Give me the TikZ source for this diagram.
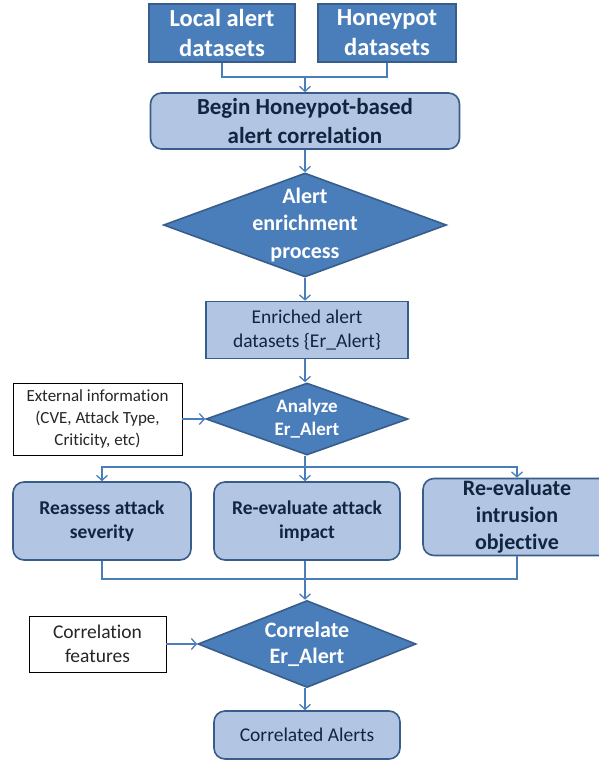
\documentclass[tikz,border=0pt]{standalone}
\usepackage{fontspec}
\setmainfont{Carlito}[Ligatures=NoCommon]
\usetikzlibrary{shapes.geometric}
\usetikzlibrary{arrows.meta}
\definecolor{alertblue}{RGB}{74,126,187}
\definecolor{alertedge}{RGB}{56,93,138}
\definecolor{alertlight}{RGB}{178,197,226}
\definecolor{alertnavy}{RGB}{16,37,63}
\newcommand{\fsz}[2]{\fontsize{#1}{#2}\selectfont} % size, baselineskip in pt
\tikzset{
	darkbox/.style={draw=alertedge, fill=alertblue, line width=1.6pt, text=white, align=center, inner sep=0pt},
	lightbox/.style={draw=alertedge, fill=alertlight, line width=1.6pt, text=alertnavy, align=center, inner sep=0pt},
	roundbox/.style={lightbox, rounded corners=11pt},
	decision/.style={diamond, aspect=2.5, draw=alertedge, fill=alertblue, line width=1.6pt, text=white, align=center, inner sep=0pt},
	infobox/.style={draw=black, fill=white, line width=0.9pt, text=black!85, align=center, inner sep=0pt},
	link/.style={draw=alertblue, line width=1.3pt},
	flow/.style={link, -{Straight Barb[length=5pt,width=11pt]}}
}

\begin{document}
\begin{tikzpicture}[x=1pt, y=-1pt]
	% 598 x 760, y grows downwards
	\useasboundingbox (0,0) rectangle (598,760);
	
	% sources
	\node[darkbox, minimum width=146pt, minimum height=58pt, font=\bfseries\fsz{24.5}{30}] (local) at (222,33) {Local alert\\datasets};
	\node[darkbox, minimum width=138pt, minimum height=58pt, font=\bfseries\fsz{24.5}{30}] (honey) at (387,33) {Honeypot\\datasets};
	\coordinate (join) at (305,77);
	
	% main column
	\node[roundbox, minimum width=309pt, minimum height=56pt, font=\bfseries\fsz{23}{29}] (begin) at (305,121) {Begin Honeypot-based\\alert correlation};
	\node[decision, inner sep=-6pt, minimum width=283pt, minimum height=104pt, font=\bfseries\fsz{22}{27.5}] (enrich) at (305,225) {Alert\\enrichment\\process};
	\node[lightbox, minimum width=202pt, minimum height=57pt, font=\fsz{19.5}{24}] (enriched) at (307,330) {Enriched alert\\datasets \{Er\_Alert\}};
	\node[decision, minimum width=202pt, minimum height=72pt, font=\bfseries\fsz{19}{23}] (analyze) at (307,419) {Analyze\\Er\_Alert};
	\node[infobox, minimum width=169pt, minimum height=72pt, font=\fsz{17}{22}] (extinfo) at (97.5,419) {External information\\(CVE, Attack Type,\\Criticity, etc)};
	
	% three re-evaluations
	\coordinate (fork) at (305,467);
	\node[roundbox, minimum width=178pt, minimum height=78pt, font=\bfseries\fsz{19.5}{23.5}] (severity) at (102,521) {Reassess attack\\severity};
	\node[roundbox, minimum width=186pt, minimum height=78pt, font=\bfseries\fsz{19.5}{23.5}] (impact) at (307,521) {Re-evaluate attack\\impact};
	\node[roundbox, minimum width=188pt, minimum height=77pt, font=\bfseries\fsz{22}{27}] (objective) at (517,517) {Re-evaluate\\intrusion\\objective};
	\coordinate (merge) at (305,579);
	
	% correlation
	\node[decision, minimum width=218pt, minimum height=87pt, font=\bfseries\fsz{22}{26}] (correlate) at (307,644) {Correlate\\Er\_Alert};
	\node[infobox, minimum width=137pt, minimum height=56pt, font=\fsz{19.5}{24}] (features) at (97.5,644) {Correlation\\features};
	\node[roundbox, minimum width=186pt, minimum height=48pt, font=\fsz{19.5}{24}] (result) at (307,735) {Correlated Alerts};
	
	% connectors
	\draw[link] (local.south) |- (join) -| (honey.south);
	\draw[flow] (join) -- (join |- begin.north);
	\draw[flow] (begin.south -| join) -- (enrich.north);
	\draw[flow] (enrich.south) -- (enriched.north -| enrich.south);
	\draw[flow] (enriched.south -| enrich.south) -- (analyze.north -| enrich.south);
	\draw[flow] (extinfo.east) -- (analyze.west);
	\draw[link] (analyze.south -| fork) -- (fork);
	\draw[flow] (fork) -| (severity.north);
	\draw[flow] (fork) -- (fork |- impact.north);
	\draw[flow] (fork) -| (objective.north);
	\draw[link] (severity.south) |- (merge) -| (objective.south);
	\draw[link] (impact.south -| merge) -- (merge);
	\draw[flow] (merge) -- (merge |- correlate.north);
	\draw[flow] (features.east) -- (correlate.west);
	\draw[flow] (correlate.south -| merge) -- (merge |- result.north);
\end{tikzpicture}
\end{document}
